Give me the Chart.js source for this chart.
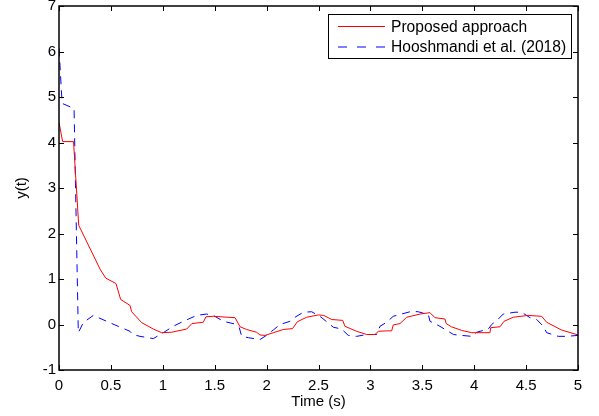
<!DOCTYPE html>
<html>
<head>
<meta charset="utf-8">
<script src="https://cdn.jsdelivr.net/npm/chart.js@4/dist/chart.umd.min.js"></script>
<style>
  html, body { margin: 0; padding: 0; background: #fff; }
  #wrap { width: 599px; height: 416px; }
</style>
</head>
<body>
<div id="wrap"><canvas id="yChart" width="599" height="416"></canvas></div>
<script>
// Data
const labelProposed = 'Proposed approach';
const labelHoosh = 'Hooshmandi et al. (2018)';

const tProposed = [0, 0.035, 0.14, 0.19, 0.395, 0.45, 0.549, 0.594, 0.684, 0.70, 0.797, 0.909, 0.989,
    1.085, 1.23, 1.28, 1.39, 1.416, 1.487, 1.696, 1.744, 1.808, 1.904, 1.936, 1.985, 2.065, 2.16, 2.25,
    2.296, 2.386, 2.498, 2.55, 2.627, 2.733, 2.755, 2.868, 2.964, 3.044, 3.077, 3.157, 3.205, 3.22, 3.285,
    3.35, 3.478, 3.574, 3.622, 3.719, 3.73, 3.78, 3.88, 3.976, 4.152, 4.159, 4.249, 4.287, 4.377, 4.52,
    4.65, 4.698, 4.84, 5.0];
const yProposed = [4.44, 4.02, 4.02, 2.18, 1.22, 1.02, 0.90, 0.55, 0.42, 0.28, 0.04, -0.10, -0.18,
    -0.17, -0.10, 0.02, 0.05, 0.17, 0.18, 0.15, -0.05, -0.11, -0.17, -0.23, -0.24, -0.18, -0.11, -0.09,
    0.06, 0.16, 0.21, 0.20, 0.11, 0.09, -0.04, -0.15, -0.22, -0.22, -0.15, -0.14, -0.14, -0.01, 0.02,
    0.16, 0.23, 0.26, 0.15, 0.12, 0.02, -0.05, -0.13, -0.18, -0.18, -0.07, -0.05, 0.07, 0.16, 0.20,
    0.18, 0.05, -0.12, -0.23];

const tHoosh = [0, 0.03, 0.122, 0.145, 0.186, 0.234, 0.33, 0.46, 0.57, 0.684, 0.71, 0.78, 0.909, 1.005,
    1.1, 1.198, 1.327, 1.42, 1.487, 1.583, 1.696, 1.737, 1.76, 1.824, 1.936, 1.985, 2.065, 2.129, 2.225,
    2.274, 2.354, 2.434, 2.514, 2.563, 2.643, 2.723, 2.787, 2.868, 2.964, 3.06, 3.092, 3.157, 3.22, 3.30,
    3.398, 3.46, 3.558, 3.574, 3.67, 3.8, 3.88, 3.976, 4.024, 4.136, 4.168, 4.232, 4.28, 4.393, 4.457,
    4.538, 4.602, 4.666, 4.698, 4.81, 4.89, 5.0];
const yHoosh = [6.07, 4.86, 4.77, 4.75, -0.18, 0.04, 0.20, 0.07, -0.04, -0.15, -0.22, -0.26, -0.31, -0.18,
    -0.04, 0.07, 0.20, 0.23, 0.20, 0.07, 0.01, -0.07, -0.26, -0.29, -0.33, -0.26, -0.12, 0.0, 0.07,
    0.16, 0.27, 0.28, 0.18, 0.09, -0.06, -0.10, -0.24, -0.26, -0.22, -0.22, -0.04, 0.05, 0.18, 0.23,
    0.29, 0.28, 0.22, 0.07, -0.04, -0.22, -0.24, -0.26, -0.17, -0.10, 0.0, 0.12, 0.23, 0.27, 0.27,
    0.15, 0.11, -0.04, -0.18, -0.26, -0.26, -0.24];

// Sumbu
const xMin = 0, xMax = 5, xStep = 0.5;
const yMin = -1, yMax = 7, yStep = 1;
const xTitle = 'Time (s)';
const yTitle = 'y(t)';

const FONT = 'Liberation Sans, Arial, Helvetica, sans-serif';
const FONT_SIZE = 15;

function toPoints(xs, ys) {
    return xs.map((x, i) => ({ x: x, y: ys[i] }));
}

// Bingkai + tick ke dalam ala MATLAB
const framePlugin = {
    id: 'frame',
    afterDatasetsDraw(chart) {
        const { ctx, chartArea: a, scales } = chart;
        const len = 5;
        ctx.save();
        ctx.strokeStyle = '#000';
        ctx.lineWidth = 1;
        scales.x.ticks.forEach(t => {
            const px = Math.round(scales.x.getPixelForValue(t.value)) + 0.5;
            ctx.beginPath();
            ctx.moveTo(px, a.bottom); ctx.lineTo(px, a.bottom - len);
            ctx.moveTo(px, a.top); ctx.lineTo(px, a.top + len);
            ctx.stroke();
        });
        scales.y.ticks.forEach(t => {
            const py = Math.round(scales.y.getPixelForValue(t.value)) + 0.5;
            ctx.beginPath();
            ctx.moveTo(a.left, py); ctx.lineTo(a.left + len, py);
            ctx.moveTo(a.right, py); ctx.lineTo(a.right - len, py);
            ctx.stroke();
        });
        ctx.lineWidth = 1.5;
        ctx.strokeRect(a.left, a.top, a.right - a.left, a.bottom - a.top);
        ctx.restore();
    }
};

// Legenda di dalam area plot (kanan atas)
const legendPlugin = {
    id: 'boxLegend',
    afterDraw(chart) {
        const { ctx } = chart;
        const box = { x: 328, y: 14, w: 243, h: 44 };
        ctx.save();
        ctx.fillStyle = '#fff';
        ctx.fillRect(box.x, box.y, box.w, box.h);
        ctx.strokeStyle = '#000';
        ctx.lineWidth = 1;
        ctx.strokeRect(box.x + 0.5, box.y + 0.5, box.w, box.h);
        ctx.font = '15.6px ' + FONT;
        ctx.textBaseline = 'middle';
        chart.data.datasets.forEach((ds, i) => {
            const y = box.y + 12.5 + i * 20.5;
            ctx.strokeStyle = ds.borderColor;
            ctx.lineWidth = ds.borderWidth;
            ctx.setLineDash(ds.legendDash || []);
            ctx.beginPath();
            ctx.moveTo(box.x + 10, y); ctx.lineTo(box.x + 57, y);
            ctx.stroke();
            ctx.setLineDash([]);
            ctx.fillStyle = '#000';
            ctx.fillText(ds.label, box.x + 63, y + 1);
        });
        ctx.restore();
    }
};

// Label angka tanpa ".0"
function fmtTick(v) {
    return String(Math.round(v * 10) / 10);
}

const ctx = document.getElementById('yChart').getContext('2d');
new Chart(ctx, {
    type: 'line',
    data: {
        datasets: [
            {
                label: labelProposed,
                data: toPoints(tProposed, yProposed),
                borderColor: '#ff0000',
                borderWidth: 1,
                pointRadius: 0,
                tension: 0,
                fill: false
            },
            {
                label: labelHoosh,
                data: toPoints(tHoosh, yHoosh),
                borderColor: '#0000ff',
                borderWidth: 1,
                borderDash: [8, 6],
                legendDash: [9, 10],
                pointRadius: 0,
                tension: 0,
                fill: false
            }
        ]
    },
    options: {
        responsive: false,
        animation: false,
        devicePixelRatio: 1,
        layout: { padding: { left: 0, right: 21, top: 6, bottom: 0 } },
        plugins: {
            legend: { display: false },
            tooltip: { enabled: false }
        },
        scales: {
            x: {
                type: 'linear',
                min: xMin, max: xMax,
                grid: { display: false, drawTicks: false },
                border: { display: false },
                ticks: { stepSize: xStep, padding: 7, color: '#000', font: { family: FONT, size: FONT_SIZE }, maxRotation: 0, callback: fmtTick },
                title: { display: true, text: xTitle, color: '#000', font: { family: FONT, size: FONT_SIZE }, padding: { top: 0, bottom: 5 } },
                afterFit(scale) { scale.height = 46; scale.paddingLeft = 0; scale.paddingRight = 0; }
            },
            y: {
                type: 'linear',
                min: yMin, max: yMax,
                grid: { display: false, drawTicks: false },
                border: { display: false },
                ticks: { stepSize: yStep, padding: 3, color: '#000', font: { family: FONT, size: FONT_SIZE }, callback: fmtTick },
                title: { display: true, text: yTitle, color: '#000', font: { family: FONT, size: FONT_SIZE }, padding: { top: 13, bottom: 0 } },
                afterFit(scale) { scale.width = 59; scale.paddingTop = 0; scale.paddingBottom = 0; }
            }
        }
    },
    plugins: [framePlugin, legendPlugin]
});
</script>
</body>
</html>
